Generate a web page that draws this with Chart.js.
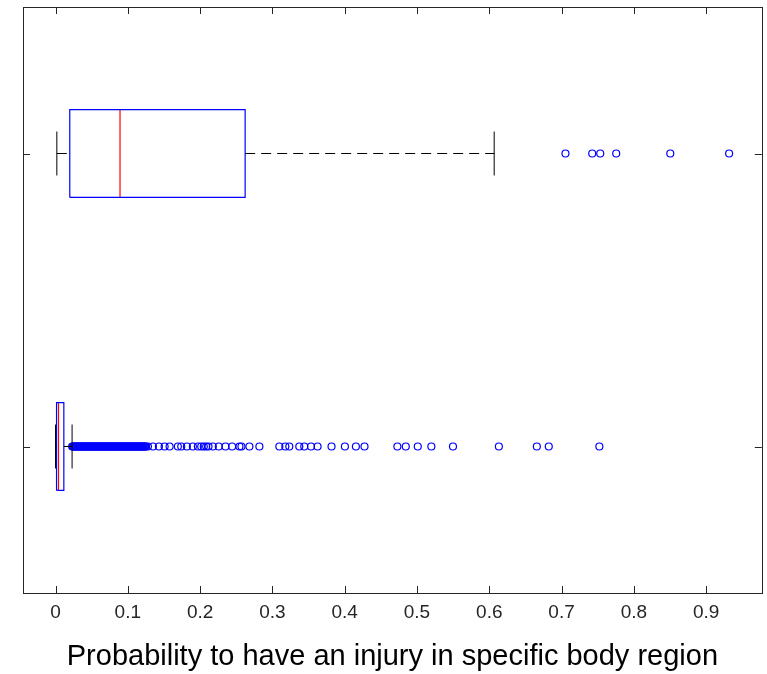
<!DOCTYPE html>
<html>
<head>
<meta charset="utf-8">
<script src="https://cdn.jsdelivr.net/npm/chart.js@4.4.1/dist/chart.umd.min.js"></script>
<style>
    body { margin: 0; background: #ffffff; }
    #wrap { width: 767px; height: 674px; }
</style>
</head>
<body>
<div id="wrap"><canvas id="chart"></canvas></div>
<script>
// box positions on the (hidden) vertical axis: 1 = lower box, 2 = upper box
const groups = [1, 2];
const lowerWhisker = [0.0, 0.0018];
const q1 = [0.0014, 0.0197];
const median = [0.0041, 0.0892];
const q3 = [0.0115, 0.2623];
const upperWhisker = [0.0229, 0.6068];

// outliers of the lower box (very dense near the whisker)
const outliersLow = [
    0.023, 0.024, 0.025, 0.026, 0.027, 0.028, 0.029, 0.030, 0.031, 0.032,
    0.033, 0.034, 0.035, 0.036, 0.037, 0.038, 0.039, 0.040, 0.041, 0.042,
    0.043, 0.044, 0.045, 0.046, 0.047, 0.048, 0.049, 0.050, 0.051, 0.052,
    0.053, 0.054, 0.055, 0.056, 0.057, 0.058, 0.059, 0.060, 0.061, 0.062,
    0.063, 0.064, 0.065, 0.066, 0.067, 0.068, 0.069, 0.070, 0.071, 0.072,
    0.073, 0.074, 0.075, 0.076, 0.077, 0.078, 0.079, 0.080, 0.081, 0.082,
    0.083, 0.084, 0.085, 0.086, 0.087, 0.088, 0.089, 0.090, 0.091, 0.092,
    0.093, 0.094, 0.095, 0.096, 0.097, 0.098, 0.099, 0.100, 0.101, 0.102,
    0.103, 0.104, 0.105, 0.106, 0.107, 0.108, 0.109, 0.110, 0.111, 0.112,
    0.113, 0.114, 0.115, 0.116, 0.117, 0.118, 0.119, 0.120, 0.121, 0.122,
    0.123, 0.124, 0.125, 0.1278, 0.1347, 0.143,
    0.1509, 0.1578, 0.1692, 0.1739, 0.1817, 0.190, 0.1969, 0.2015, 0.2051, 0.2084,
    0.2116, 0.2176, 0.2258, 0.2351, 0.2443, 0.2544, 0.2572, 0.2682, 0.2820, 0.3096,
    0.3179, 0.3234, 0.3372, 0.3441, 0.3534, 0.3625, 0.3818, 0.4003, 0.4155, 0.4274,
    0.4729, 0.4845, 0.5011, 0.5199, 0.5498, 0.6133, 0.6658, 0.6823, 0.7523
];
// outliers of the upper box
const outliersHigh = [0.7054, 0.7424, 0.7535, 0.7756, 0.8504, 0.9318];

const xTicks = [0, 0.1, 0.2, 0.3, 0.4, 0.5, 0.6, 0.7, 0.8, 0.9];
const xTickLabels = ["0", "0.1", "0.2", "0.3", "0.4", "0.5", "0.6", "0.7", "0.8", "0.9"];
const xLabel = "Probability to have an injury in specific body region";

const BOX_HALF = 0.15;
const CAP_HALF = 0.075;

// build segments separated by gaps
function segments(list) {
    const out = [];
    list.forEach(seg => {
        out.push(seg[0], seg[1], { x: null, y: null });
    });
    return out;
}

const boxOutline = [];
const medianLines = [];
const whiskerLines = [];
const capLines = [];
groups.forEach((g, i) => {
    boxOutline.push(
        { x: q1[i], y: g - BOX_HALF }, { x: q3[i], y: g - BOX_HALF },
        { x: q3[i], y: g + BOX_HALF }, { x: q1[i], y: g + BOX_HALF },
        { x: q1[i], y: g - BOX_HALF }, { x: null, y: null }
    );
    medianLines.push([{ x: median[i], y: g - BOX_HALF }, { x: median[i], y: g + BOX_HALF }]);
    whiskerLines.push([{ x: lowerWhisker[i], y: g }, { x: q1[i], y: g }]);
    whiskerLines.push([{ x: q3[i], y: g }, { x: upperWhisker[i], y: g }]);
    capLines.push([{ x: lowerWhisker[i], y: g - CAP_HALF }, { x: lowerWhisker[i], y: g + CAP_HALF }]);
    capLines.push([{ x: upperWhisker[i], y: g - CAP_HALF }, { x: upperWhisker[i], y: g + CAP_HALF }]);
});

const outlierPoints = outliersLow.map(v => ({ x: v, y: groups[0] }))
    .concat(outliersHigh.map(v => ({ x: v, y: groups[1] })));

function lineSet(data, color, dash, width) {
    return {
        type: "line",
        data: data,
        borderColor: color,
        borderWidth: width || 1,
        borderDash: dash || [],
        pointRadius: 0,
        showLine: true,
        spanGaps: false,
        fill: false
    };
}

// frame + inward ticks, matlab style
const framePlugin = {
    id: "frame",
    afterDraw(chart) {
        const ctx = chart.ctx;
        const a = chart.chartArea;
        const xs = chart.scales.x;
        const ys = chart.scales.y;
        const len = 7;
        ctx.save();
        ctx.strokeStyle = "#262626";
        ctx.lineWidth = 1;
        ctx.beginPath();
        xTicks.forEach(v => {
            const px = Math.round(xs.getPixelForValue(v)) + 0.5;
            ctx.moveTo(px, a.bottom); ctx.lineTo(px, a.bottom - len);
            ctx.moveTo(px, a.top); ctx.lineTo(px, a.top + len);
        });
        groups.forEach(g => {
            const py = Math.round(ys.getPixelForValue(g)) + 0.5;
            ctx.moveTo(a.left, py); ctx.lineTo(a.left + len, py);
            ctx.moveTo(a.right, py); ctx.lineTo(a.right - len, py);
        });
        ctx.stroke();
        ctx.strokeRect(Math.round(a.left) + 0.5, Math.round(a.top) + 0.5,
            Math.round(a.right - a.left), Math.round(a.bottom - a.top));
        ctx.restore();
    }
};

Chart.defaults.font.family = "'Liberation Sans', Arial, sans-serif";

new Chart(document.getElementById("chart"), {
    type: "scatter",
    data: {
        datasets: [
            lineSet(segments(whiskerLines), "#000000", [10, 6]),
            lineSet(segments(capLines), "#000000"),
            lineSet(boxOutline, "#0000ff", null, 1.2),
            lineSet(segments(medianLines), "#ff0000", null, 1.2),
            {
                type: "scatter",
                data: outlierPoints,
                pointRadius: 3.5,
                pointStyle: "circle",
                borderColor: "#0000ff",
                backgroundColor: "rgba(0,0,0,0)",
                borderWidth: 1.2
            }
        ]
    },
    options: {
        responsive: true,
        maintainAspectRatio: false,
        animation: false,
        layout: { padding: { left: 23, right: 4, top: 7, bottom: 0 } },
        plugins: {
            legend: { display: false },
            tooltip: { enabled: false }
        },
        scales: {
            x: {
                type: "linear",
                min: -0.045,
                max: 0.977,
                afterBuildTicks: s => { s.ticks = xTicks.map(v => ({ value: v })); },
                afterFit: s => { s.height = 81; },
                grid: { display: false },
                border: { display: false },
                ticks: {
                    autoSkip: false,
                    maxRotation: 0,
                    padding: 0,
                    color: "#262626",
                    font: { size: 19 },
                    callback: (v) => xTickLabels[xTicks.indexOf(v)]
                },
                title: {
                    display: true,
                    text: xLabel,
                    color: "#000000",
                    font: { size: 29 },
                    padding: { top: 0, bottom: 0 }
                }
            },
            y: {
                type: "linear",
                display: false,
                min: 0.5,
                max: 2.5
            }
        }
    },
    plugins: [framePlugin]
});
</script>
</body>
</html>
